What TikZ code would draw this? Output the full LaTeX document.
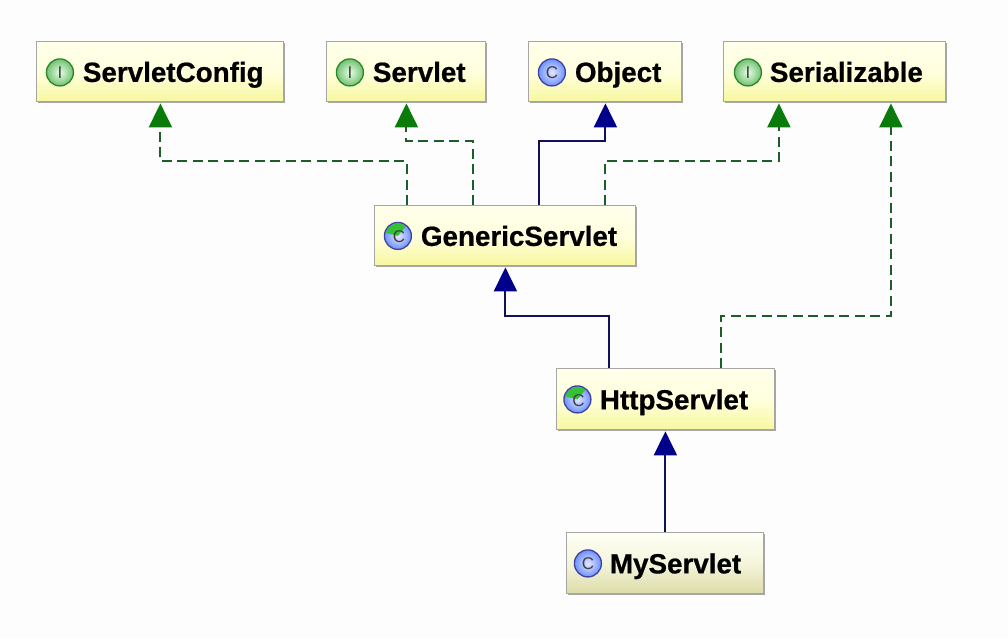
\documentclass[tikz,border=0pt]{standalone}
\usepackage{fontspec}
\setmainfont[BoldFeatures={FakeBold=0.6}]{Liberation Sans}
\usetikzlibrary{arrows.meta,shadows,calc}
\definecolor{paper}{HTML}{FDFDFD}
\definecolor{implline}{HTML}{1B5E2A}
\definecolor{impltip}{HTML}{0A7A0A}
\definecolor{extline}{HTML}{10105E}
\definecolor{exttip}{HTML}{00008A}
\tikzset{
  x=1pt,y=-1pt,
  box/.style={anchor=north west,draw=black!35,line width=1pt,inner sep=0pt,
    align=left,font=\fontsize{27.8}{30}\selectfont\bfseries,text=black,
    general shadow={shadow xshift=1.5pt,shadow yshift=-1.5pt,fill=black!35}},
  ifacebox/.style={box,top color=white!92!yellow,bottom color=yellow!36!white!97!black,
    middle color=yellow!13!white},
  plainbox/.style={box,top color=white!96!yellow,bottom color=yellow!24!white!86!black,
    middle color=yellow!10!white!96!black},
  badge/.style={circle,minimum size=27pt,inner sep=0pt,line width=1.3pt,
    font=\fontsize{17}{17}\selectfont\rmfamily,text=black!75},
  ibadge/.style={badge,draw=green!45!black!85,inner color=green!10!white,outer color=green!55!black!55!white},
  cbadge/.style={badge,draw=blue!50!black!75,inner color=blue!10!white,outer color=blue!50!white!85!cyan},
  wedge/.style={fill=green!70!black!80},
  badgetext/.style={font=\fontsize{17}{17}\selectfont\rmfamily,text=black!75},
  impl/.style={draw=implline,line width=2.1pt,dash pattern=on 10pt off 5.5pt,shorten >=1pt,
    -{Triangle[length=24pt,width=23pt,fill=impltip,color=impltip,sep=0pt]}},
  extends/.style={draw=extline,line width=2.1pt,shorten >=1pt,
    -{Triangle[length=24pt,width=23pt,fill=exttip,color=exttip,sep=0pt]}},
}
% one class box: name, left, top, width, height, style, label indent, label
\newcommand{\classbox}[8]{%
  \node[#6,minimum width=#4pt,minimum height=#5pt,text width=#4pt] (#1) at (#2,#3)
    {\hspace*{#7pt}\raisebox{-4pt}[20pt][8pt]{#8}};}
\begin{document}
\begin{tikzpicture}
\useasboundingbox[fill=paper] (0.6,0.6) rectangle (1008.6,638.6);

\classbox{sc}{37}{42}{247}{60}{ifacebox}{46}{ServletConfig}
\classbox{sv}{327}{42}{159}{60}{ifacebox}{46}{Servlet}
\classbox{ob}{529}{42}{153}{60}{ifacebox}{46}{Object}
\classbox{se}{724}{42}{222}{60}{ifacebox}{46}{Serializable}
\classbox{gs}{375}{206}{261}{60}{ifacebox}{46}{GenericServlet}
\classbox{hs}{557}{369}{218}{61}{ifacebox}{43}{HttpServlet}
\classbox{ms}{567}{533}{197}{61}{plainbox}{43}{MyServlet}

% type badges
\node[ibadge] (isc) at (60.5,73) {I};
\node[ibadge] (isv) at (350.5,73) {I};
\node[cbadge] (iob) at (552.5,73) {C};
\node[ibadge] (ise) at (748.5,73) {I};
\node[cbadge] (igs) at (398.5,236.5) {};
\node[cbadge] (ihs) at (578,400) {};
\node[cbadge] (ims) at (588.5,564) {C};

% abstract classes: green wedge over the blue badge
\fill[wedge] (igs.center) -- ++(-12,-3) arc[start angle=-166,end angle=-50,radius=12.4] -- cycle;
\node[badgetext] (lgs) at ([xshift=1pt,yshift=-1pt]igs.center) {C};
\fill[wedge] (ihs.center) -- ++(-12,-3) arc[start angle=-166,end angle=-50,radius=12.4] -- cycle;
\node[badgetext] (lhs) at ([xshift=1pt,yshift=-1pt]ihs.center) {C};

% interface realisations
\draw[impl] ([xshift=-98.5pt]gs.north) -- ++(0,-44) -| (sc.south);
\draw[impl] ([xshift=-32.5pt]gs.north) -- ++(0,-64) -| (sv.south);
\draw[impl] ([xshift=99.5pt]gs.north) -- ++(0,-44) -| ([xshift=-56pt]se.south);
\draw[impl] ([xshift=55pt]hs.north) -- ++(0,-52) -| ([xshift=56pt]se.south);

% inheritance
\draw[extends] ([xshift=33.5pt]gs.north) -- ++(0,-64) -| (ob.south);
\draw[extends] ([xshift=-57pt]hs.north) -- ++(0,-52) -| (gs.south);
\draw[extends] (ms.north) -- (ms.north |- hs.south);
\end{tikzpicture}
\end{document}
